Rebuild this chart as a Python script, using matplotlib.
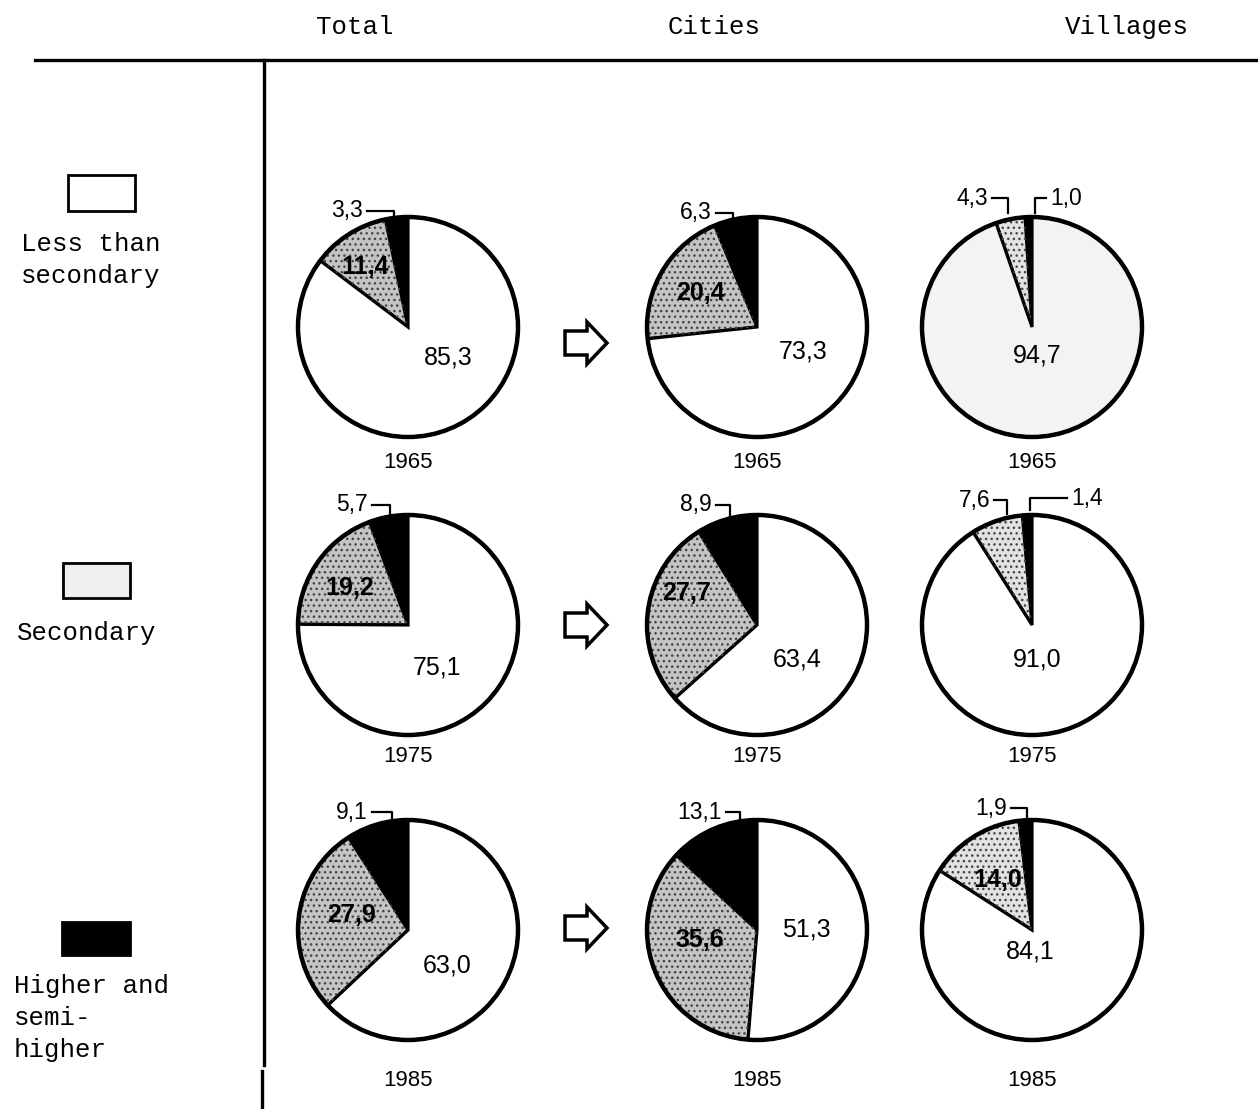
import matplotlib
matplotlib.use("Agg")
import matplotlib.pyplot as plt
import matplotlib.patches as mpatches

W, H = 1258, 1109

columns = ["Total", "Cities", "Villages"]
years = ["1965", "1975", "1985"]
legend_labels = ["Less than\nsecondary", "Secondary", "Higher and\nsemi-\nhigher"]

# rows = years, cols = Total / Cities / Villages
higher = [[3.3, 6.3, 1.0],
          [5.7, 8.9, 1.4],
          [9.1, 13.1, 1.9]]
secondary = [[11.4, 20.4, 4.3],
             [19.2, 27.7, 7.6],
             [27.9, 35.6, 14.0]]
less_than = [[85.3, 73.3, 94.7],
             [75.1, 63.4, 91.0],
             [63.0, 51.3, 84.1]]

# ---- layout (pixels, y from top) ----
col_x = [408, 757, 1032]
row_y = [327, 625, 930]
radius = 110
year_y = [462, 757, 1080]
header_x = [355, 714, 1127]
arrow_y = [343, 625, 928]

# small outside labels: (row, col, which, anchor x, text y, side, corner x, bottom y)
small_labels = [
    (0, 0, "h", 363, 211, "L", 394, 222),
    (0, 1, "h", 712, 213, "L", 733, 222),
    (0, 2, "s", 988, 198, "L", 1008, 213),
    (0, 2, "h", 1050, 198, "R", 1035, 213),
    (1, 0, "h", 368, 505, "L", 390, 516),
    (1, 1, "h", 712, 505, "L", 730, 516),
    (1, 2, "s", 990, 500, "L", 1007, 514),
    (1, 2, "h", 1071, 498, "R", 1030, 510),
    (2, 0, "h", 368, 812, "L", 392, 826),
    (2, 1, "h", 722, 812, "L", 740, 826),
    (2, 2, "h", 1007, 808, "L", 1027, 824),
]
# inner labels: secondary (bold) position, less-than position
sec_pos = {(0, 0): (365, 267), (0, 1): (700, 293),
           (1, 0): (350, 588), (1, 1): (687, 593),
           (2, 0): (352, 915), (2, 1): (700, 940), (2, 2): (998, 880)}
less_pos = {(0, 0): (448, 358), (0, 1): (803, 352), (0, 2): (1037, 355),
            (1, 0): (437, 668), (1, 1): (797, 660), (1, 2): (1037, 660),
            (2, 0): (447, 965), (2, 1): (806, 930), (2, 2): (1030, 952)}


def Y(py):
    return H - py


def fmt(v):
    return f"{v:.1f}".replace(".", ",")


mono = "Liberation Mono"
sans = "Liberation Sans"

fig = plt.figure(figsize=(W / 100, H / 100), dpi=100)
ax = fig.add_axes([0, 0, 1, 1])

# pies
for r in range(3):
    for c in range(3):
        vals = [higher[r][c], secondary[r][c], less_than[r][c]]
        ctr = (col_x[c], Y(row_y[r]))
        sec_col = "#e2e2e2" if c == 2 else "#c4c4c4"
        less_col = "#f3f3f3" if (r, c) == (0, 2) else "white"
        wedges, _ = ax.pie(vals, colors=["black", sec_col, less_col], startangle=90,
                           counterclock=True, center=ctr, radius=radius,
                           wedgeprops=dict(edgecolor="black", linewidth=2.3))
        # speckled texture on the secondary slice
        sec_w = wedges[1]
        ax.add_patch(mpatches.Wedge(ctr, radius, sec_w.theta1, sec_w.theta2,
                                    facecolor="none", edgecolor="#444444",
                                    linewidth=0, hatch="...", zorder=4))
        ax.add_patch(mpatches.Circle(ctr, radius, fill=False,
                                     edgecolor="black", linewidth=3.2, zorder=5))
        ax.text(col_x[c], Y(year_y[r]), years[r], ha="center", va="center",
                fontsize=16, family=sans)
        if (r, c) in sec_pos:
            x, y = sec_pos[(r, c)]
            ax.text(x, Y(y), fmt(secondary[r][c]), ha="center", va="center",
                    fontsize=18, fontweight="bold", family=sans, zorder=6)
        x, y = less_pos[(r, c)]
        ax.text(x, Y(y), fmt(less_than[r][c]), ha="center", va="center",
                fontsize=18, family=sans, zorder=6)

# small labels with bracket leaders
for r, c, which, tx, ty, side, cx, by in small_labels:
    v = higher[r][c] if which == "h" else secondary[r][c]
    if side == "L":
        ax.text(tx, Y(ty), fmt(v), ha="right", va="center", fontsize=16.5, family=sans)
        ax.plot([tx + 4, cx, cx], [Y(ty), Y(ty), Y(by)], color="black", lw=1.6)
    else:
        ax.text(tx, Y(ty), fmt(v), ha="left", va="center", fontsize=16.5, family=sans)
        ax.plot([tx - 4, cx, cx], [Y(ty), Y(ty), Y(by)], color="black", lw=1.6)

# arrows between Total and Cities
for ay in arrow_y:
    ax.add_patch(mpatches.FancyArrow(565, Y(ay), 42, 0, width=24, head_width=42,
                                     head_length=20, length_includes_head=True,
                                     facecolor="white", edgecolor="black", linewidth=2.5))

# header
for x, name in zip(header_x, columns):
    ax.text(x, Y(27), name, ha="center", va="center", fontsize=18.5, family=mono)
ax.plot([35, W], [Y(60), Y(60)], color="black", lw=2.4)
ax.plot([264, 264], [Y(60), Y(1065)], color="black", lw=2.4)
ax.plot([262, 262], [Y(1071), Y(H)], color="black", lw=2.4)

# legend
boxes = [(68, 175, 135, 211, "white"), (63, 563, 130, 598, "#efefef"),
         (62, 922, 130, 955, "black")]
label_tops = [(21, 244), (17, 633), (14, 986)]
for (x0, y0, x1, y1, fc), (lx, ly), lab in zip(boxes, label_tops, legend_labels):
    ax.add_patch(mpatches.Rectangle((x0, Y(y1)), x1 - x0, y1 - y0, facecolor=fc,
                                    edgecolor="black", linewidth=2))
    for i, line in enumerate(lab.split("\n")):
        ax.text(lx, Y(ly + i * 32), line, ha="left", va="center",
                fontsize=18.5, family=mono)

ax.set_xlim(0, W)
ax.set_ylim(0, H)
ax.set_aspect("equal")
ax.axis("off")

fig.savefig("out.png", dpi=100, facecolor="white")
